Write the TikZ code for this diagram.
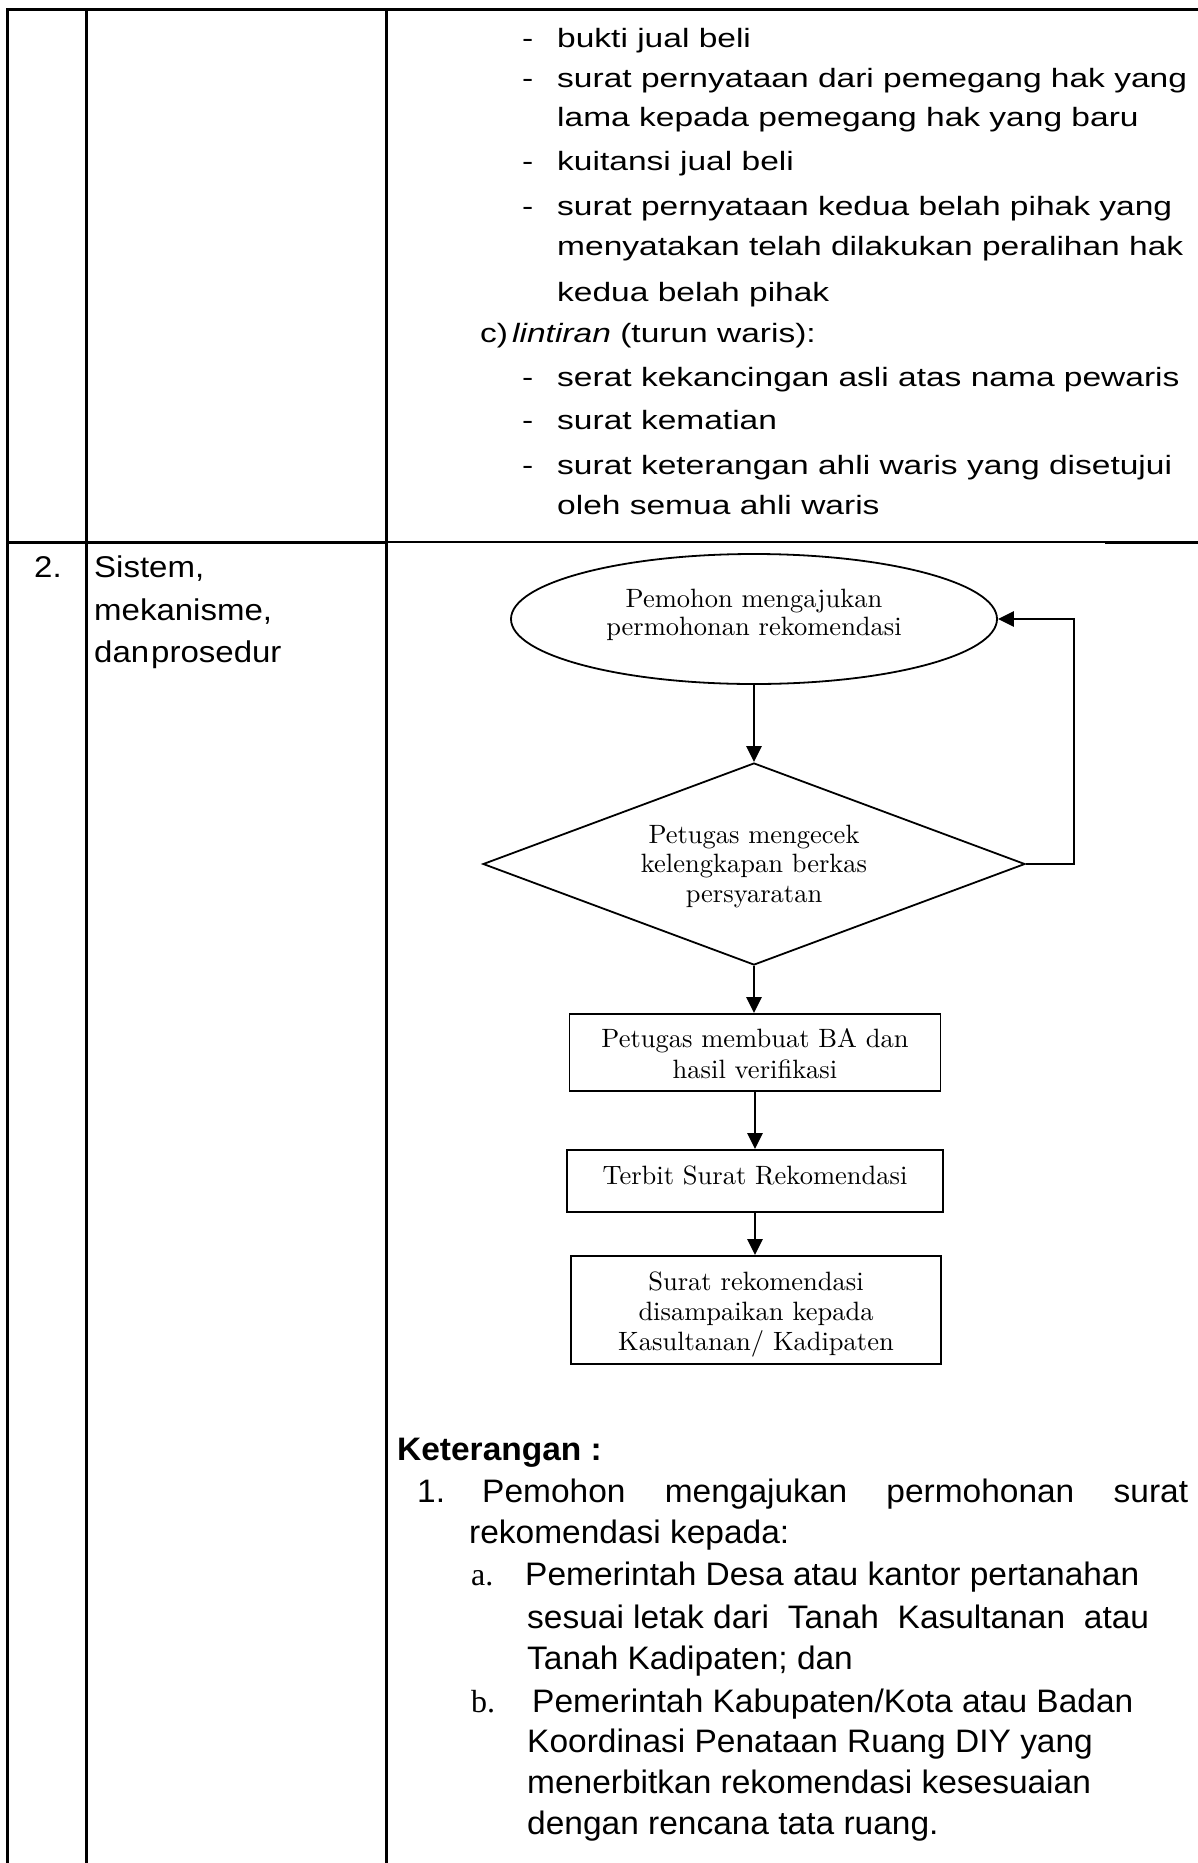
\documentclass[tikz,border=0pt]{standalone}
\usepackage{fontspec}
\usetikzlibrary{shapes.geometric,arrows.meta}
% sans faces for the table text, serif for list letters and the chart
\newfontfamily\topsans[FakeStretch=1.265]{Liberation Sans}
\newfontfamily\leftsans[FakeStretch=1.1]{Liberation Sans}
\newfontfamily\notesans[FakeStretch=1.03]{Liberation Sans}
\newfontfamily\letterserif{Liberation Serif}
\newfontfamily\flowserif{lmroman10-regular.otf}

\tikzset{
  gridthick/.style={line width=3pt, line cap=rect},
  gridthin/.style={line width=2.2pt, line cap=rect},
  toptxt/.style={anchor=base west, inner sep=0pt, font=\topsans\fontsize{26.5}{30}\selectfont},
  lefttxt/.style={anchor=base west, inner sep=0pt, font=\leftsans\fontsize{30}{34}\selectfont},
  notetxt/.style={anchor=base west, inner sep=0pt, font=\notesans\fontsize{32.5}{36}\selectfont},
  lettertxt/.style={anchor=base west, inner sep=0pt, font=\letterserif\fontsize{32}{36}\selectfont},
  flowtxt/.style={anchor=base, inner sep=0pt, font=\flowserif\fontsize{26.5}{30}\selectfont},
  flowshape/.style={draw, line width=1.8pt, fill=white, inner sep=0pt},
  flowarrow/.style={line width=2.6pt, -{Triangle[length=16pt,width=15pt]}},
}

\begin{document}
\begin{tikzpicture}[x=1pt,y=-1pt]
\fill[white] (0,0) rectangle (1197,1863);
\useasboundingbox (0,0) rectangle (1197,1863);

% table rules
\draw[gridthick] (7,9) -- (1197,9);
\draw[gridthick] (7,9) -- (7,1863);
\draw[gridthick] (86,9) -- (86,1863);
\draw[gridthick] (386,9) -- (386,1863);
\draw[gridthick] (7,542) -- (386,542);
\draw[gridthin] (386,542) -- (1106,542);
\draw[gridthick] (1106,542) -- (1197,542);

% requirement list (upper row)
\foreach \y/\n in {47/d1,87/d2,170/d3,215/d4,386/d5,429/d6,474/d7}
  \node[toptxt] (\n) at (522,\y) {-};
\node[toptxt] (r1) at (557,47) {bukti jual beli};
\node[toptxt] (r2) at (557,87) {surat pernyataan dari pemegang hak yang};
\node[toptxt] (r3) at (557,126) {lama kepada pemegang hak yang baru};
\node[toptxt] (r4) at (557,170) {kuitansi jual beli};
\node[toptxt] (r5) at (557,215) {surat pernyataan kedua belah pihak yang};
\node[toptxt] (r6) at (557,255) {menyatakan telah dilakukan peralihan hak};
\node[toptxt] (r7) at (557,301) {kedua belah pihak};
\node[toptxt] (c) at (480,342) {c)};
\node[toptxt] (r8) at (512,342) {\textit{lintiran} (turun waris):};
\node[toptxt] (r9) at (557,386) {serat kekancingan asli atas nama pewaris};
\node[toptxt] (r10) at (557,429) {surat kematian};
\node[toptxt] (r11) at (557,474) {surat keterangan ahli waris yang disetujui};
\node[toptxt] (r12) at (557,514) {oleh semua ahli waris};

% second row, left columns
\node[lefttxt] (no) at (34,577) {2.};
\node[lefttxt] (h1) at (94,577) {Sistem,};
\node[lefttxt] (h2) at (94,620) {mekanisme,};
\node[lefttxt] (h3) at (94,662) {dan\kern2pt prosedur};

% flowchart shapes
\node[flowshape, ellipse, minimum width=486pt, minimum height=130pt] (req) at (754,619) {};
\node[flowshape, diamond, minimum width=542pt, minimum height=202pt] (chk) at (754,864) {};
\node[flowshape, minimum width=371pt, minimum height=77pt] (ba) at (755,1052.5) {};
\node[flowshape, minimum width=376pt, minimum height=62pt] (issue) at (755,1181) {};
\node[flowshape, minimum width=370pt, minimum height=108pt] (send) at (756,1310) {};

% flowchart texts
\node[flowtxt] (t1) at (754,607) {Pemohon mengajukan};
\node[flowtxt] (t2) at (754,635) {permohonan rekomendasi};
\node[flowtxt] (t3) at (754,843) {Petugas mengecek};
\node[flowtxt] (t4) at (754,872) {kelengkapan berkas};
\node[flowtxt] (t5) at (754,902) {persyaratan};
\node[flowtxt] (t6) at (755,1047) {Petugas membuat BA dan};
\node[flowtxt] (t7) at (755,1078) {hasil verifikasi};
\node[flowtxt] (t8) at (755,1184) {Terbit Surat Rekomendasi};
\node[flowtxt] (t9) at (756,1290) {Surat rekomendasi};
\node[flowtxt] (t10) at (756,1320) {disampaikan kepada};
\node[flowtxt] (t11) at (756,1350) {Kasultanan/ Kadipaten};

% flowchart connectors
\draw[flowarrow] (req.south) -- (chk.north);
\draw[flowarrow] (chk.south) -- (chk.south |- ba.north);
\draw[flowarrow] (ba.south) -- (ba.south |- issue.north);
\draw[flowarrow] (issue.south) -- (issue.south |- send.north);
\draw[flowarrow] (chk.east) -- ++(48,0) |- (req.east);

% notes
\node[notetxt, font=\notesans\bfseries\fontsize{32.5}{36}\selectfont] (k) at (397,1460) {Keterangan :};
\node[notetxt] (n1) at (417,1502) {1.};
\node[notetxt] (n1a) at (482,1502) {\makebox[706pt][s]{Pemohon mengajukan permohonan surat}};
\node[notetxt] (n1b) at (469,1543) {rekomendasi kepada:};
\node[lettertxt] (la) at (471,1585) {a.};
\node[notetxt] (a1) at (525,1585) {Pemerintah Desa atau kantor pertanahan};
\node[notetxt] (a2) at (527,1628) {\makebox[622pt][s]{sesuai letak dari\hfill Tanah\hfill Kasultanan\hfill atau}};
\node[notetxt] (a3) at (527,1669) {Tanah Kadipaten; dan};
\node[lettertxt] (lb) at (471,1712) {b.};
\node[notetxt] (b1) at (532,1712) {Pemerintah Kabupaten/Kota atau Badan};
\node[notetxt] (b2) at (527,1752) {Koordinasi Penataan Ruang DIY yang};
\node[notetxt] (b3) at (527,1793) {menerbitkan rekomendasi kesesuaian};
\node[notetxt] (b4) at (527,1834) {dengan rencana tata ruang.};
\end{tikzpicture}
\end{document}
